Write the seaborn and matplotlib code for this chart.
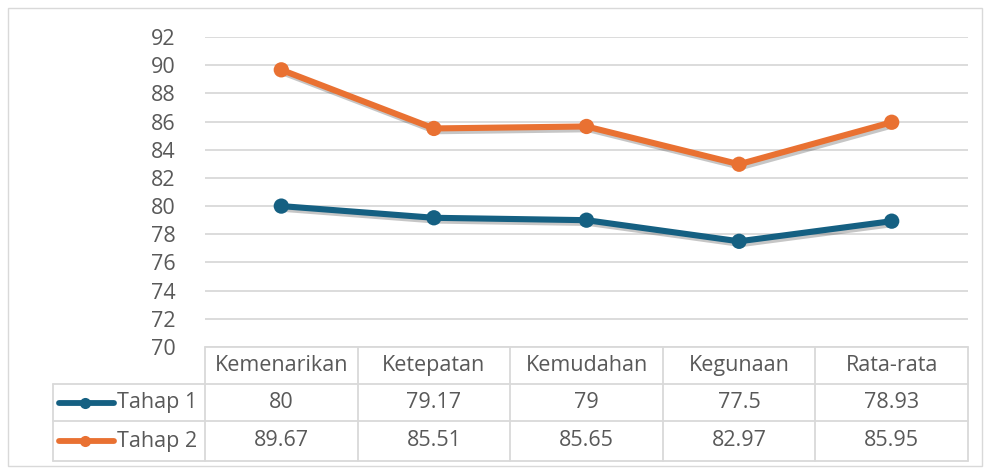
import numpy as np
import pandas as pd
import matplotlib
matplotlib.use("Agg")
import matplotlib.pyplot as plt
import matplotlib.patheffects as pe
from matplotlib.lines import Line2D
from matplotlib.patches import Rectangle
import seaborn as sns

# --- data ---
categories = ["Kemenarikan", "Ketepatan", "Kemudahan", "Kegunaan", "Rata-rata"]
tahap_1 = [80, 79.17, 79, 77.5, 78.93]
tahap_2 = [89.67, 85.51, 85.65, 82.97, 85.95]
series_names = ["Tahap 1", "Tahap 2"]
y_ticks = list(range(70, 93, 2))

# --- style ---
BLUE = "#156082"
ORANGE = "#E97132"
TEXT = "#595959"
GRID = "#D9D9D9"
FONT = "Open Sans"
FS = 15.5

sns.set_theme(style="white")
plt.rcParams["font.family"] = [FONT, "DejaVu Sans"]

W, H = 984, 468
fig = plt.figure(figsize=(W / 100, H / 100), dpi=100)

def fx(px):
    return px / W

def fy(py):
    return 1 - py / H

# outer chart frame
fig.add_artist(Rectangle((fx(8), fy(466)), fx(974), 458 / H, transform=fig.transFigure,
                         fill=False, edgecolor=GRID, linewidth=1.0))

# plot area
left, right, top, bottom = 205, 968, 37, 347
ax = fig.add_axes([fx(left), fy(bottom), fx(right - left), (bottom - top) / H])

df = pd.DataFrame({
    "kategori": categories * 2,
    "nilai": tahap_1 + tahap_2,
    "tahap": [series_names[0]] * len(categories) + [series_names[1]] * len(categories),
})
palette = {series_names[0]: BLUE, series_names[1]: ORANGE}
sns.lineplot(data=df, x="kategori", y="nilai", hue="tahap", palette=palette, ax=ax,
             marker="o", markersize=11, markeredgewidth=0, linewidth=4.4,
             legend=False, sort=False)

shadow = [pe.SimpleLineShadow(offset=(1.5, -2.0), alpha=0.3, shadow_color="#444444"), pe.Normal()]
for line in ax.lines:
    line.set_path_effects(shadow)
    line.set_zorder(3)

ax.set_xlim(-0.5, len(categories) - 0.5)
ax.set_ylim(70, 92)
ax.set_yticks(y_ticks)
ax.set_yticklabels([str(t) for t in y_ticks], fontsize=FS, color=TEXT)
ax.tick_params(axis="y", length=0, pad=21)
ax.set_xticks([])
ax.set_xlabel("")
ax.set_ylabel("")
ax.grid(axis="y", color=GRID, linewidth=1.3)
ax.set_axisbelow(True)
for s in ax.spines.values():
    s.set_visible(False)

# --- data table under the plot ---
col_w = (right - left) / len(categories)
row_edges = [347, 384, 421, 461]
label_left = 53
tcol = GRID
lw = 1.3

def hline(x0, x1, y):
    fig.add_artist(Line2D([fx(x0), fx(x1)], [fy(y), fy(y)], color=tcol, linewidth=lw,
                          transform=fig.transFigure))

def vline(x, y0, y1):
    fig.add_artist(Line2D([fx(x), fx(x)], [fy(y0), fy(y1)], color=tcol, linewidth=lw,
                          transform=fig.transFigure))

hline(left, right, row_edges[0])
for y in row_edges[1:]:
    hline(label_left, right, y)
for i in range(len(categories) + 1):
    vline(left + i * col_w, row_edges[0], row_edges[-1])
vline(label_left, row_edges[1], row_edges[-1])

for i, cat in enumerate(categories):
    cx = left + (i + 0.5) * col_w
    fig.text(fx(cx), fy((row_edges[0] + row_edges[1]) / 2), cat, ha="center", va="center",
             fontsize=FS, color=TEXT)

rows = [tahap_1, tahap_2]
colors = [BLUE, ORANGE]
for r, (name, vals, c) in enumerate(zip(series_names, rows, colors)):
    yc = (row_edges[r + 1] + row_edges[r + 2]) / 2
    fig.add_artist(Line2D([fx(59), fx(114)], [fy(yc), fy(yc)], color=c, linewidth=4.2,
                          solid_capstyle="round", transform=fig.transFigure))
    fig.add_artist(Line2D([fx(85)], [fy(yc)], color=c, marker="o", markersize=8,
                          markeredgewidth=0, transform=fig.transFigure))
    fig.text(fx(117), fy(yc), name, ha="left", va="center", fontsize=FS, color=TEXT)
    for i, v in enumerate(vals):
        cx = left + (i + 0.5) * col_w
        fig.text(fx(cx), fy(yc), f"{v:g}", ha="center", va="center", fontsize=FS, color=TEXT)

fig.savefig("out.png", dpi=100, facecolor="white")
